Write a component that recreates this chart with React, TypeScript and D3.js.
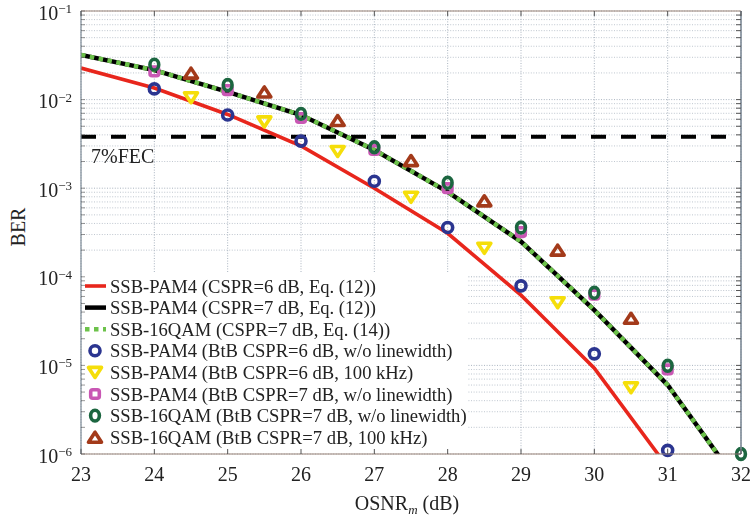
import React from "react";
import * as d3 from "d3";

// Theoretical curves, evaluated at integer OSNR values
const osnrCurve = [23, 24, 25, 26, 27, 28, 29, 30, 31, 32];
const berPam4Cspr6Eq12 = [0.0227, 0.0135, 0.0068, 0.003, 0.001, 3.1e-4, 6.2e-5, 9.3e-6, 7.1e-7];
const berPam4Cspr7Eq12 = [0.032, 0.0215, 0.0122, 0.0067, 0.0027, 9.1e-4, 2.5e-4, 4.2e-5, 6.0e-6, 4.3e-7];
const berQam16Cspr7Eq14 = [0.032, 0.0215, 0.0122, 0.0067, 0.0027, 9.1e-4, 2.5e-4, 4.2e-5, 6.0e-6, 4.3e-7];

// Measured back-to-back points
const osnrInt = [24, 25, 26, 27, 28, 29, 30, 31];
const osnrHalf = [24.5, 25.5, 26.5, 27.5, 28.5, 29.5, 30.5];
const osnrQam = [24, 25, 26, 27, 28, 29, 30, 31, 32];
const berPam4Btb6 = [0.0132, 6.7e-3, 3.4e-3, 1.2e-3, 3.6e-4, 7.9e-5, 1.35e-5, 1.1e-6];
const berPam4Btb6Lw = [1.05e-2, 5.6e-3, 2.6e-3, 7.9e-4, 2.1e-4, 5.1e-5, 5.6e-6];
const berPam4Btb7 = [0.0208, 0.0128, 6.2e-3, 2.7e-3, 1.0e-3, 3.2e-4, 6.3e-5, 9.0e-6];
const berQamBtb7 = [0.0248, 0.0146, 6.9e-3, 2.9e-3, 1.15e-3, 3.6e-4, 6.6e-5, 9.9e-6, 1.0e-6];
const berQamBtb7Lw = [0.0199, 0.0122, 5.8e-3, 2.05e-3, 7.2e-4, 2.0e-4, 3.4e-5];

const fecThreshold = 3.8e-3;
const xTicks = [23, 24, 25, 26, 27, 28, 29, 30, 31, 32];
const yExponents = [-1, -2, -3, -4, -5, -6];

const legendLabels = [
  "SSB-PAM4 (CSPR=6 dB, Eq. (12))",
  "SSB-PAM4 (CSPR=7 dB, Eq. (12))",
  "SSB-16QAM (CSPR=7 dB, Eq. (14))",
  "SSB-PAM4 (BtB CSPR=6 dB, w/o linewidth)",
  "SSB-PAM4 (BtB CSPR=6 dB, 100 kHz)",
  "SSB-PAM4 (BtB CSPR=7 dB, w/o linewidth)",
  "SSB-16QAM (BtB CSPR=7 dB, w/o linewidth)",
  "SSB-16QAM (BtB CSPR=7 dB, 100 kHz)",
];

const C = {
  red: "#e8261c",
  black: "#000000",
  lime: "#6cc24a",
  blue: "#2b3590",
  yellow: "#f5de0a",
  magenta: "#c957b4",
  dgreen: "#1c6640",
  brown: "#a33a1a",
  grid: "#8f9cab",
  frame: "#9a8478",
};

const FONT = "'Liberation Serif', 'Times New Roman', serif";
const W = 751;
const H = 516;
const L = 81;
const R = 741;
const T = 11;
const B = 454;

type Kind = "circle" | "tdown" | "square" | "ellipse" | "tup";

function Marker({ kind, cx, cy, color }: { kind: Kind; cx: number; cy: number; color: string }) {
  const sw = 3.6;
  if (kind === "circle")
    return <circle cx={cx} cy={cy} r={5} fill="none" stroke={color} strokeWidth={sw} />;
  if (kind === "ellipse")
    return <ellipse cx={cx} cy={cy} rx={4.4} ry={5.4} fill="none" stroke={color} strokeWidth={sw} />;
  if (kind === "square")
    return (
      <rect x={cx - 4.3} y={cy - 4.3} width={8.6} height={8.6} rx={2} fill="none" stroke={color} strokeWidth={sw} />
    );
  const hw = 6.5;
  const hh = 5;
  const d =
    kind === "tdown"
      ? `M${cx - hw},${cy - hh}L${cx + hw},${cy - hh}L${cx},${cy + hh}Z`
      : `M${cx - hw},${cy + hh}L${cx + hw},${cy + hh}L${cx},${cy - hh}Z`;
  return <path d={d} fill="none" stroke={color} strokeWidth={sw} strokeLinejoin="round" />;
}

export default function App() {
  const x = d3.scaleLinear().domain([23, 32]).range([L, R]);
  const y = d3.scaleLog().domain([1e-6, 1e-1]).range([B, T]);

  const line = d3
    .line<[number, number]>()
    .x((d) => x(d[0]))
    .y((d) => y(d[1]));
  const pairs = (xs: number[], ys: number[]) => ys.map((v, i) => [xs[i], v] as [number, number]);

  const minorVals: number[] = [];
  for (let e = -6; e < -1; e++) for (let m = 2; m <= 9; m++) minorVals.push(m * Math.pow(10, e));
  const majorVals = yExponents.map((e) => Math.pow(10, e));

  const pointSeries: { xs: number[]; ys: number[]; kind: Kind; color: string }[] = [
    { xs: osnrInt, ys: berPam4Btb6, kind: "circle", color: C.blue },
    { xs: osnrHalf, ys: berPam4Btb6Lw, kind: "tdown", color: C.yellow },
    { xs: osnrInt, ys: berPam4Btb7, kind: "square", color: C.magenta },
    { xs: osnrQam, ys: berQamBtb7, kind: "ellipse", color: C.dgreen },
    { xs: osnrHalf, ys: berQamBtb7Lw, kind: "tup", color: C.brown },
  ];

  const legendKinds: (Kind | "red" | "black" | "dots")[] = [
    "red",
    "black",
    "dots",
    "circle",
    "tdown",
    "square",
    "ellipse",
    "tup",
  ];
  const legendColors = [C.red, C.black, C.lime, C.blue, C.yellow, C.magenta, C.dgreen, C.brown];
  const legTop = 286;
  const legStep = 21.6;

  return (
    <svg width={W} height={H} style={{ position: "absolute", left: 0, top: 0, background: "#fff" }} fontFamily={FONT}>
      <defs>
        <clipPath id="plotClip">
          <rect x={L} y={T} width={R - L} height={B - T} />
        </clipPath>
      </defs>
      <rect x={0} y={0} width={W} height={H} fill="#fff" />

      {/* grid */}
      <g stroke={C.grid} strokeWidth={0.9} strokeDasharray="1,1.6" fill="none" opacity={0.85}>
        {minorVals.map((v, i) => (
          <line key={"mn" + i} x1={L} x2={R} y1={y(v)} y2={y(v)} opacity={0.75} />
        ))}
        {majorVals.map((v, i) => (
          <line key={"mj" + i} x1={L} x2={R} y1={y(v)} y2={y(v)} />
        ))}
        {xTicks.map((t) => (
          <line key={"vx" + t} x1={x(t)} x2={x(t)} y1={T} y2={B} />
        ))}
      </g>

      {/* legend background hides the grid behind it */}
      <rect x={L + 1} y={273} width={386} height={B - 273 - 1} fill="#fff" />

      {/* FEC threshold */}
      <line
        x1={L}
        x2={R}
        y1={y(fecThreshold)}
        y2={y(fecThreshold)}
        stroke={C.black}
        strokeWidth={4}
        strokeDasharray="15,15"
      />
      <text x={91} y={163} fontSize={20} fill="#222">
        7%FEC
      </text>

      {/* theory curves */}
      <g clipPath="url(#plotClip)" fill="none">
        <path d={line(pairs(osnrCurve, berPam4Cspr6Eq12)) || ""} stroke={C.red} strokeWidth={3.6} />
        <path d={line(pairs(osnrCurve, berPam4Cspr7Eq12)) || ""} stroke={C.black} strokeWidth={4.5} />
        <path
          d={line(pairs(osnrCurve, berQam16Cspr7Eq14)) || ""}
          stroke={C.lime}
          strokeWidth={4.5}
          strokeDasharray="4.5,4.5"
        />
      </g>

      {/* measured points */}
      <g>
        {pointSeries.map((s, si) =>
          s.ys.map((v, i) => (
            <Marker key={si + "-" + i} kind={s.kind} cx={x(s.xs[i])} cy={y(v)} color={s.color} />
          ))
        )}
      </g>

      {/* frame */}
      <g fill="none" strokeWidth={1.2}>
        <line x1={L} x2={R} y1={T} y2={T} stroke={C.frame} />
        <line x1={L} x2={R} y1={B} y2={B} stroke={C.frame} />
        <line x1={L} x2={L} y1={T} y2={B} stroke="#7d8a96" />
        <line x1={R} x2={R} y1={T} y2={B} stroke="#7d8a96" strokeWidth={1.6} />
      </g>
      <g stroke="#555" strokeWidth={1}>
        {xTicks.map((t) => (
          <g key={"xt" + t}>
            <line x1={x(t)} x2={x(t)} y1={B} y2={B - 5} />
            <line x1={x(t)} x2={x(t)} y1={T} y2={T + 5} />
          </g>
        ))}
        {minorVals.concat(majorVals).map((v, i) => (
          <g key={"yt" + i}>
            <line x1={R} x2={R - (v === majorVals[0] ? 0 : 5)} y1={y(v)} y2={y(v)} />
            <line x1={L} x2={L + 4} y1={y(v)} y2={y(v)} opacity={0.6} />
          </g>
        ))}
      </g>

      {/* tick labels */}
      <g fontSize={20} fill="#222">
        {xTicks.map((t) => (
          <text key={"xl" + t} x={x(t)} y={481} textAnchor="middle">
            {t}
          </text>
        ))}
        {yExponents.map((e) => (
          <text key={"yl" + e} x={72} y={y(Math.pow(10, e)) + 8.5} textAnchor="end">
            10
            <tspan fontSize={13} dy={-6.5}>
              {"\u2212" + Math.abs(e)}
            </tspan>
          </text>
        ))}
      </g>

      {/* axis titles */}
      <text x={0} y={0} fontSize={20} fill="#222" textAnchor="middle" transform={`translate(25,227) rotate(-90)`}>
        BER
      </text>
      <text x={407} y={510} fontSize={20} fill="#222" textAnchor="middle">
        OSNR
        <tspan fontSize={13} fontStyle="italic" dy={4}>
          m
        </tspan>
        <tspan dy={-4}> (dB)</tspan>
      </text>

      {/* legend */}
      <g>
        {legendLabels.map((lab, i) => {
          const cy = legTop + i * legStep;
          const k = legendKinds[i];
          let sample: React.ReactNode;
          if (k === "red") sample = <line x1={85} x2={106} y1={cy} y2={cy} stroke={C.red} strokeWidth={3.6} />;
          else if (k === "black") sample = <line x1={85} x2={106} y1={cy} y2={cy} stroke={C.black} strokeWidth={4.5} />;
          else if (k === "dots")
            sample = (
              <line x1={85} x2={106} y1={cy} y2={cy} stroke={C.lime} strokeWidth={4.5} strokeDasharray="4.5,4.5" />
            );
          else sample = <Marker kind={k} cx={95} cy={cy} color={legendColors[i]} />;
          return (
            <g key={"lg" + i}>
              {sample}
              <text x={110} y={cy + 6.5} fontSize={18.6} fill="#222">
                {lab}
              </text>
            </g>
          );
        })}
      </g>
    </svg>
  );
}
